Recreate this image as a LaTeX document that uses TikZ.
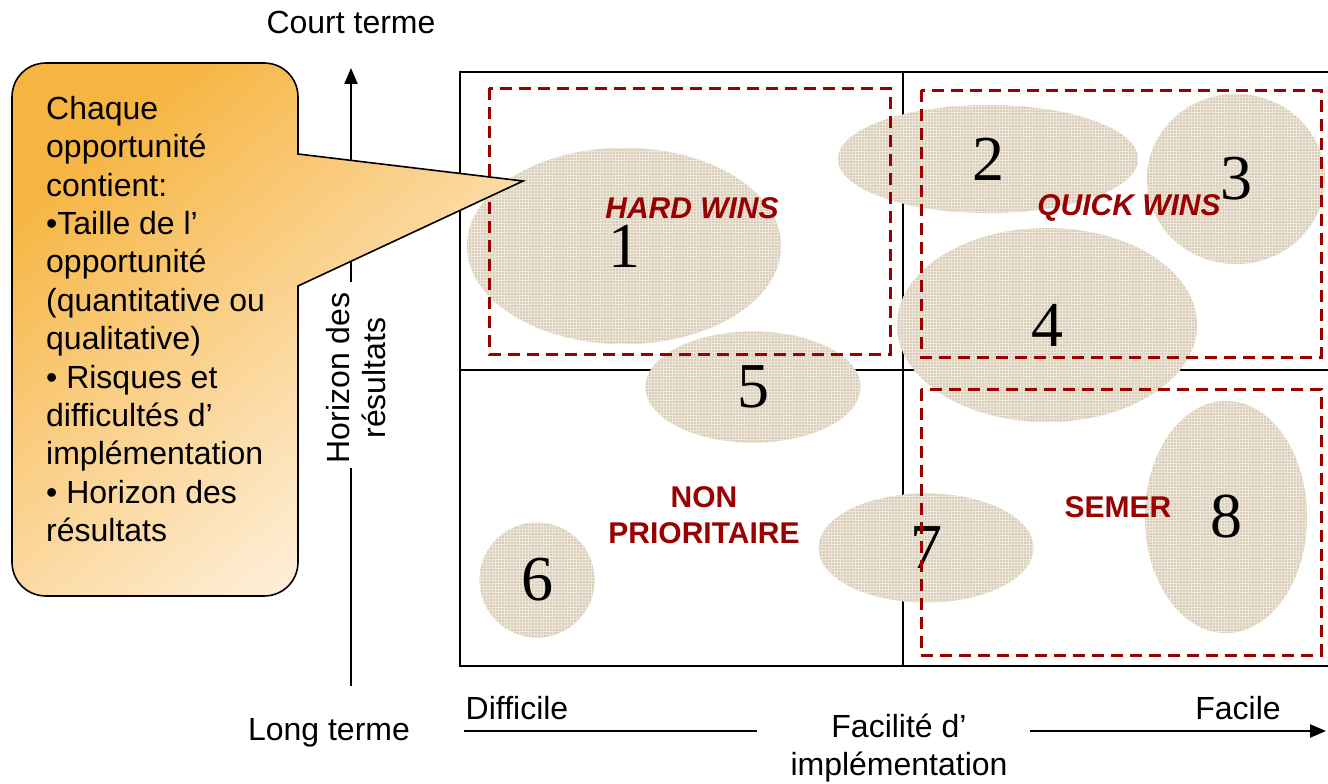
\documentclass[tikz,border=0pt]{standalone}
\usepackage{fontspec}
\setmainfont{Liberation Sans}
\newfontfamily\numfont{Liberation Serif}
\usetikzlibrary{shapes.geometric,arrows.meta,patterns}

\definecolor{winred}{HTML}{990000}
\definecolor{linen}{HTML}{D8CEBA}
\definecolor{linenlight}{HTML}{ECE5D8}
\definecolor{calloutdark}{HTML}{F6B440}
\definecolor{calloutmid}{HTML}{FAD3A2}
\definecolor{calloutlight}{HTML}{FFF5EA}

\begin{document}
\begin{tikzpicture}[x=1pt,y=-1pt,
  sans/.style={font=\fontsize{32}{38.4}\selectfont, inner sep=0pt},
  zone/.style={draw=winred, line width=3pt, dash pattern=on 12pt off 7pt},
  gridline/.style={line width=2.8pt},
  blob/.style={ellipse, fill=linen, inner sep=0pt,
    postaction={pattern=grid, pattern color=linenlight},
    font=\numfont\fontsize{64}{64}\selectfont},
  tag/.style={text=winred, font=\bfseries\fontsize{30}{36}\selectfont,
    inner sep=0pt, align=center},
  axis/.style={line width=2.4pt},
  arrowhead/.style={-{Triangle[length=16pt,width=13pt]}},
]
\useasboundingbox (0,0) rectangle (1328,784);

% quadrant frame
\draw[gridline] (1340,72) -- (460,72) -- (460,666) -- (1340,666);
\draw[gridline] (903,72) -- (903,666);
\draw[gridline] (460,370) -- (1340,370);

% opportunities
\node[blob, minimum width=314pt, minimum height=196pt] (o1) at (624,246) {1};
\node[blob, minimum width=300pt, minimum height=108pt] (o2) at (988,159) {2};
\node[blob, minimum width=178pt, minimum height=170pt] (o3) at (1236,179) {3};
\node[blob, minimum width=300pt, minimum height=194pt] (o4) at (1047,325) {4};
\node[blob, minimum width=215pt, minimum height=111pt] (o5) at (753,387) {5};
\node[blob, minimum width=115pt, minimum height=115pt] (o6) at (537,580) {6};
\node[blob, minimum width=215pt, minimum height=109pt] (o7) at (926,548) {7};
\node[blob, minimum width=162pt, minimum height=232pt] (o8) at (1226,517) {8};

% dashed zones
\draw[zone] (489,88) rectangle (890,354);
\draw[zone] (921,90) rectangle (1321,357);
\draw[zone] (921,389) rectangle (1321,655);

% zone labels
\node[tag, font=\bfseries\itshape\fontsize{30}{36}\selectfont] (hard) at (692,208) {HARD WINS};
\node[tag, font=\bfseries\itshape\fontsize{30}{36}\selectfont] (quick) at (1129,208) {QUICK WINS};
\node[tag] (semer) at (1118,507) {SEMER};
\node[tag] (nonprio) at (704,515) {NON\\PRIORITAIRE};

% vertical axis
\coordinate (vbot) at (351,686);
\coordinate (vlow) at (351,468);
\coordinate (vhigh) at (351,282);
\coordinate (vtop) at (351,68);
\draw[axis] (vbot) -- (vlow);
\draw[axis, arrowhead] (vhigh) -- (vtop);
\node[sans, align=center, rotate=90, font=\fontsize{32}{36}\selectfont] (horizon) at (356,378) {Horizon des\\résultats};
\node[sans] (court) at (351,22) {Court terme};
\node[sans] (long) at (329,733) {Long terme};

% horizontal axis
\coordinate (hl) at (464,731);
\coordinate (hm) at (757,731);
\coordinate (hr) at (1030,731);
\coordinate (hend) at (1326,731);
\draw[axis] (hl) -- (hm);
\draw[axis, arrowhead] (hr) -- (hend);
\node[sans] (difficile) at (517,708) {Difficile};
\node[sans] (facile) at (1238,708) {Facile};
\node[sans, align=center] (facilite) at (899,748) {Facilité d’\\implémentation};

% callout with pointer
\path[draw=black, line width=1.6pt, top color=calloutdark, middle color=calloutmid,
      bottom color=calloutlight, shading angle=40]
  (298,286) -- (298,562) .. controls (298,581) and (283,596) .. (264,596)
  -- (46,596) .. controls (27,596) and (12,581) .. (12,562)
  -- (12,97) .. controls (12,78) and (27,63) .. (46,63)
  -- (264,63) .. controls (283,63) and (298,78) .. (298,97)
  -- (298,154) -- (523,181) -- cycle;
\node[sans, anchor=north west, align=left] (info) at (46,96)
  {Chaque\\opportunité\\contient:\\•Taille de l’\\opportunité\\(quantitative ou\\qualitative)\\• Risques et\\difficultés d’\\implémentation\\• Horizon des\\résultats};
\end{tikzpicture}
\end{document}
